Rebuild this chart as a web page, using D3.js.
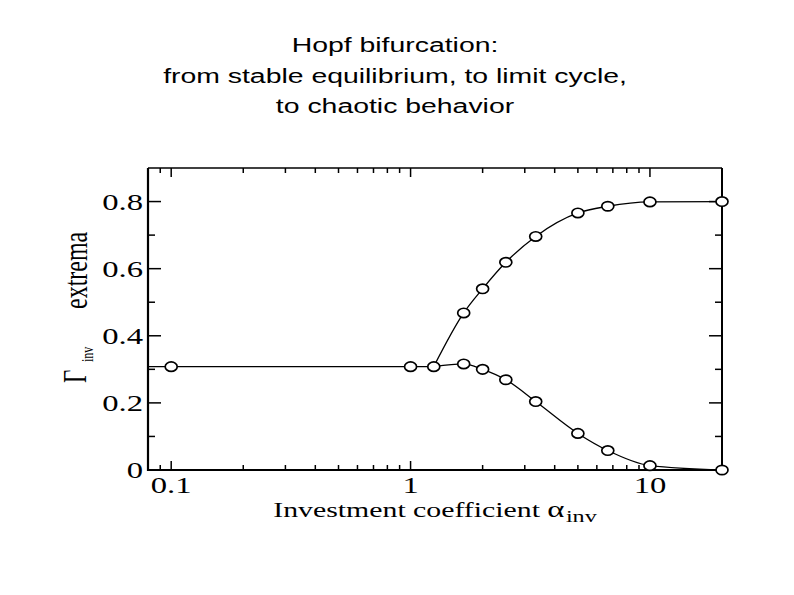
<!DOCTYPE html>
<meta charset="utf-8">
<style>
    body {
        margin: 0;
        background-color: #fff;
    }

    svg {
        display: block;
    }

    .titulo {
        font-family: "Liberation Sans", Arial, sans-serif;
        font-size: 20px;
        fill: #000;
    }

    .serif {
        font-family: "Liberation Serif", "Times New Roman", serif;
        fill: #000;
    }

    .tick {
        stroke: #000;
        stroke-width: 1.5px;
    }

    .curva {
        fill: none;
        stroke: #000;
        stroke-width: 1.3px;
    }

    .ponto {
        fill: #fff;
        stroke: #000;
        stroke-width: 1.7px;
    }
</style>
<title>Hopf bifurcation</title>
<svg width="794" height="595"></svg>
<script src="https://cdn.jsdelivr.net/npm/d3@7"></script>
<script>
    // valores
    var titulo = [
        "Hopf bifurcation:",
        "from stable equilibrium, to limit cycle,",
        "to chaotic behavior"
    ];

    var estavelX = [0.1, 1, 1.25];
    var estavelY = [0.308, 0.308, 0.308];

    var ramoX = [1.25, 1.667, 2, 2.5, 3.333, 5, 6.667, 10, 20];
    var maximoY = [0.308, 0.468, 0.540, 0.619, 0.696, 0.766, 0.786, 0.799, 0.800];
    var minimoY = [0.308, 0.316, 0.300, 0.269, 0.204, 0.109, 0.058, 0.013, 0.000];

    var xMaior = [0.1, 1, 10];
    var xMenor = [0.09, 0.2, 0.3, 0.4, 0.5, 0.6, 0.7, 0.8, 0.9, 2, 3, 4, 5, 6, 7, 8, 9];
    var xRotulos = ["0.1", "1", "10"];
    var yMaior = [0, 0.2, 0.4, 0.6, 0.8];
    var yMenor = [0.1, 0.3, 0.5, 0.7];
    var yRotulos = ["0", "0.2", "0.4", "0.6", "0.8"];

    var esticar = 1.42; // a imagem original esta esticada na horizontal

    var svg = d3.select("svg");

    var x = d3.scaleLog().domain([0.08, 20]).range([148, 722]);
    var y = d3.scaleLinear().domain([0, 0.9]).range([470, 168]);

    // titulo
    svg.selectAll(".titulo")
        .data(titulo)
        .enter().append("text")
        .attr("class", "titulo")
        .attr("text-anchor", "middle")
        .attr("transform", function (d, i) { return "translate(395," + (52 + i * 30.5) + ") scale(" + esticar + ",1)"; })
        .text(function (d) { return d; });

    var g = svg.append("g");

    svg.append("clipPath").attr("id", "area")
        .append("rect")
        .attr("x", x.range()[0]).attr("y", y.range()[1])
        .attr("width", x.range()[1] - x.range()[0])
        .attr("height", y.range()[0] - y.range()[1]);

    // marcas nos quatro lados, para dentro
    function ticksX(valores, tam) {
        valores.forEach(function (v) {
            g.append("line").attr("class", "tick")
                .attr("x1", x(v)).attr("x2", x(v))
                .attr("y1", y(0)).attr("y2", y(0) - tam);
            g.append("line").attr("class", "tick")
                .attr("x1", x(v)).attr("x2", x(v))
                .attr("y1", y(0.9)).attr("y2", y(0.9) + tam);
        });
    }

    function ticksY(valores, tam) {
        valores.forEach(function (v) {
            g.append("line").attr("class", "tick")
                .attr("x1", x(0.08)).attr("x2", x(0.08) + tam)
                .attr("y1", y(v)).attr("y2", y(v));
            g.append("line").attr("class", "tick")
                .attr("x1", x(20)).attr("x2", x(20) - tam)
                .attr("y1", y(v)).attr("y2", y(v));
        });
    }

    ticksX(xMaior, 9);
    ticksX(xMenor, 5);
    ticksY(yMaior, 13);
    ticksY(yMenor, 7);

    // moldura
    var x0 = x.range()[0], x1 = x.range()[1], yb = y.range()[0], yt = y.range()[1];
    g.append("line").attr("x1", x0).attr("x2", x0).attr("y1", yt).attr("y2", yb + 1).attr("stroke", "#000").attr("stroke-width", 2.2);
    g.append("line").attr("x1", x0).attr("x2", x1).attr("y1", yb).attr("y2", yb).attr("stroke", "#000").attr("stroke-width", 2.2);
    g.append("line").attr("x1", x1).attr("x2", x1).attr("y1", yt).attr("y2", yb).attr("stroke", "#000").attr("stroke-width", 2);
    g.append("line").attr("x1", x0).attr("x2", x1).attr("y1", yt).attr("y2", yt).attr("stroke", "#000").attr("stroke-width", 1.6);

    // rotulos dos eixos
    g.selectAll(".rotx")
        .data(xMaior)
        .enter().append("text")
        .attr("class", "serif rotx")
        .attr("font-size", 23)
        .attr("text-anchor", "middle")
        .attr("transform", function (d) { return "translate(" + x(d) + ",493) scale(" + esticar + ",1)"; })
        .text(function (d, i) { return xRotulos[i]; });

    g.selectAll(".roty")
        .data(yMaior)
        .enter().append("text")
        .attr("class", "serif roty")
        .attr("font-size", 23)
        .attr("text-anchor", "end")
        .attr("transform", function (d) { return "translate(143," + (y(d) + 8) + ") scale(" + esticar + ",1)"; })
        .text(function (d, i) { return yRotulos[i]; });

    var rotuloX = g.append("text")
        .attr("class", "serif")
        .attr("font-size", 21)
        .attr("text-anchor", "middle")
        .attr("transform", "translate(435,517) scale(" + esticar + ",1)");
    rotuloX.append("tspan").text("Investment coefficient ");
    rotuloX.append("tspan").attr("font-size", 23).text("α");
    rotuloX.append("tspan").attr("font-size", 17).attr("dy", 5).attr("dx", 1).text("inv");

    function rotulado(px, py, tam, texto) {
        g.append("text")
            .attr("class", "serif")
            .attr("font-size", tam)
            .attr("transform", "translate(" + px + "," + py + ") scale(" + esticar + ",1) rotate(-90)")
            .text(texto);
    }
    rotulado(86, 383, 23, "Γ");
    rotulado(93, 362, 12, "inv");
    rotulado(87, 309, 24, "extrema");

    // curvas
    var linha = d3.line()
        .x(function (d) { return x(d[0]); })
        .y(function (d) { return y(d[1]); });

    var suave = d3.line()
        .curve(d3.curveMonotoneX)
        .x(function (d) { return x(d[0]); })
        .y(function (d) { return y(d[1]); });

    var estavel = [[x.domain()[0], estavelY[0]]].concat(d3.zip(estavelX, estavelY));
    var maximo = d3.zip(ramoX, maximoY);
    var minimo = d3.zip(ramoX, minimoY);

    var curvas = svg.append("g").attr("clip-path", "url(#area)");
    curvas.append("path").attr("class", "curva").attr("d", linha(estavel));
    curvas.append("path").attr("class", "curva").attr("d", suave(maximo));
    curvas.append("path").attr("class", "curva").attr("d", suave(minimo));

    var pontos = d3.zip(estavelX, estavelY).concat(maximo.slice(1), minimo.slice(1));

    svg.append("g").selectAll(".ponto")
        .data(pontos)
        .enter().append("ellipse")
        .attr("class", "ponto")
        .attr("cx", function (d) { return x(d[0]); })
        .attr("cy", function (d) { return y(d[1]); })
        .attr("rx", 6)
        .attr("ry", 4.7);
</script>
